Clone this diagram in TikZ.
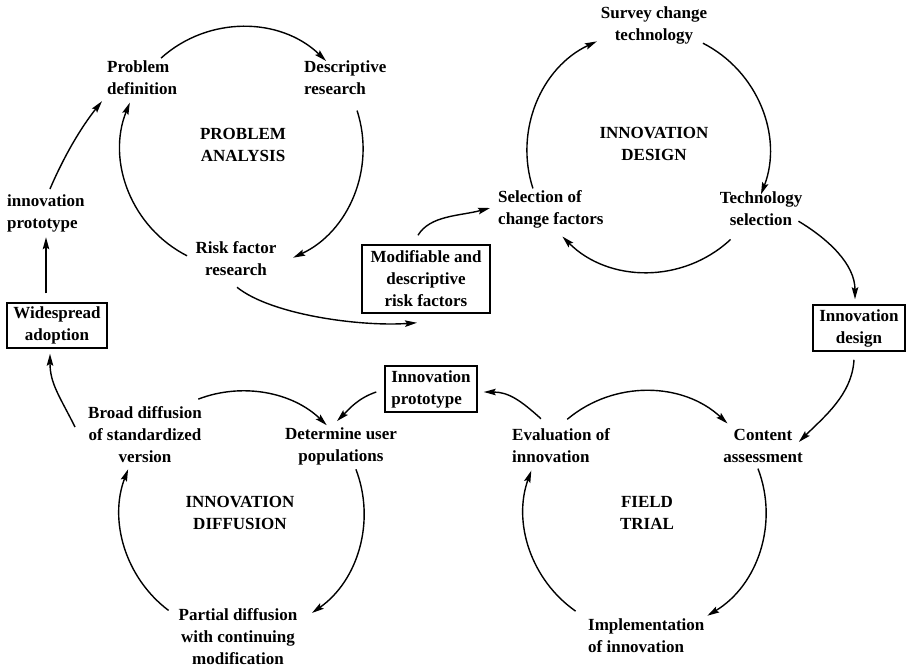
\documentclass[tikz,border=0pt]{standalone}
\usepackage{fontspec}
\setmainfont{Liberation Serif}
\usetikzlibrary{arrows.meta,calc}

\tikzset{
  lbl/.style={font=\fontsize{17}{22}\selectfont\bfseries, inner sep=0pt, align=center},
  lblL/.style={lbl, align=left, anchor=west},
  boxed/.style={lbl, draw, line width=1.5pt, inner sep=3pt},
  arr/.style={line width=1.4pt, -{Stealth[length=12pt,width=6.5pt,inset=2pt]}},
}

\begin{document}
\begin{tikzpicture}[x=1pt,y=-1pt]
\useasboundingbox (0,0) rectangle (907,667);

% ---------- cycle centres ----------
\coordinate (paC) at (242,148);
\coordinate (idC) at (648,151);
\coordinate (diC) at (242,513);
\coordinate (ftC) at (645,512);

% ---------- problem analysis ----------
\node[lblL] (pd) at (107,78) {Problem\\definition};
\node[lblL] (dr) at (304,78) {Descriptive\\research};
\node[lbl]  (pat) at (243,145) {PROBLEM\\ANALYSIS};
\node[lbl]  (rf) at (236,259) {Risk factor\\research};
\node[lblL] (ip) at (7,213) {innovation\\prototype};
\node[boxed, minimum width=100pt, minimum height=45pt] (wa) at (57,325.5) {Widespread\\adoption};
\node[boxed, minimum width=128pt, minimum height=68pt] (mod) at (426,279) {Modifiable and\\descriptive\\risk factors};

% ---------- innovation design ----------
\node[lbl]  (sc) at (654,25) {Survey change\\technology};
\node[lbl]  (idt) at (654,144) {INNOVATION\\DESIGN};
\node[lblL] (sel) at (498,209) {Selection of\\change factors};
\node[lbl]  (ts) at (761,209) {Technology\\selection};
\node[boxed, minimum width=92pt, minimum height=46pt] (idb) at (859,328) {Innovation\\design};

% ---------- innovation diffusion ----------
\node[boxed, align=left, minimum width=92pt, minimum height=46pt] (ipb) at (431,389) {Innovation\\prototype};
\node[lbl]  (bd) at (145,435) {Broad diffusion\\of standardized\\version};
\node[lbl]  (du) at (341,446) {Determine user\\populations};
\node[lbl]  (dit) at (240,513) {INNOVATION\\DIFFUSION};
\node[lbl]  (pdm) at (238,637) {Partial diffusion\\with continuing\\modification};

% ---------- field trial ----------
\node[lblL] (ev) at (512,446) {Evaluation of\\innovation};
\node[lbl]  (ca) at (763,446) {Content\\assessment};
\node[lbl]  (ftt) at (647,513) {FIELD\\TRIAL};
\node[lblL] (imp) at (588,636) {Implementation\\of innovation};

% ---------- cycle arcs ----------
\draw[arr] ([shift={(-132:121)}]paC) arc[start angle=-132, end angle=-46, radius=121];
\draw[arr] ([shift={(-18:121)}]paC)  arc[start angle=-18,  end angle=65,  radius=121];
\draw[arr] ([shift={(117:121)}]paC)  arc[start angle=117,  end angle=202, radius=121];

\draw[arr] ([shift={(162:121)}]idC)  arc[start angle=162, end angle=245, radius=121];
\draw[arr] ([shift={(-63:121)}]idC)  arc[start angle=-63, end angle=21,  radius=121];
\draw[arr] ([shift={(47:121)}]idC)   arc[start angle=47,  end angle=135, radius=121];

\draw[arr] ([shift={(-111:122)}]diC) arc[start angle=-111, end angle=-46, radius=122];
\draw[arr] ([shift={(-21:122)}]diC)  arc[start angle=-21,  end angle=55,  radius=122];
\draw[arr] ([shift={(127:122)}]diC)  arc[start angle=127,  end angle=201, radius=122];

\draw[arr] ([shift={(-130:121)}]ftC) arc[start angle=-130, end angle=-47, radius=121];
\draw[arr] ([shift={(-21:121)}]ftC)  arc[start angle=-21,  end angle=59,  radius=121];
\draw[arr] ([shift={(125:121)}]ftC)  arc[start angle=125,  end angle=200, radius=121];

% ---------- links between cycles ----------
\draw[arr] ($(wa.north)+(-11,-9)$) -- ($(wa.north)+(-11,-65)$);
\draw[arr] ($(ip.north)+(4,-5)$) .. controls +(15,-35) and +(-20,25) .. ($(pd.south west)+(-5,6)$);
\draw[arr] ($(rf.south)+(1,11)$) .. controls +(35,28) and +(-55,4) .. ($(mod.south)+(-9,9)$);
\draw[arr] ($(mod.north)+(-8,-9)$) .. controls +(12,-20) and +(-30,8) .. ($(sel.west)+(-8,-1)$);
\draw[arr] ($(ts.south east)+(-4,-5)$) .. controls +(30,18) and +(0,-35) .. ($(idb.north)+(-4,-5)$);
\draw[arr] ($(idb.south)+(-5,8)$) .. controls +(-2,35) and +(25,-25) .. ($(ca.east)+(-4,-4)$);
\draw[arr] ($(ev.north west)+(29,-10)$) .. controls +(-20,-18) and +(25,0) .. ($(ipb.east)+(6,3)$);
\draw[arr] ($(ipb.west)+(-8,3)$) .. controls +(-18,6) and +(12,-12) .. ($(du.north)+(-4,-6)$);
\draw[arr] ($(bd.west)+(-13,-8)$) .. controls +(-15,-30) and +(0,30) .. ($(wa.south)+(-7,5)$);
\end{tikzpicture}
\end{document}
